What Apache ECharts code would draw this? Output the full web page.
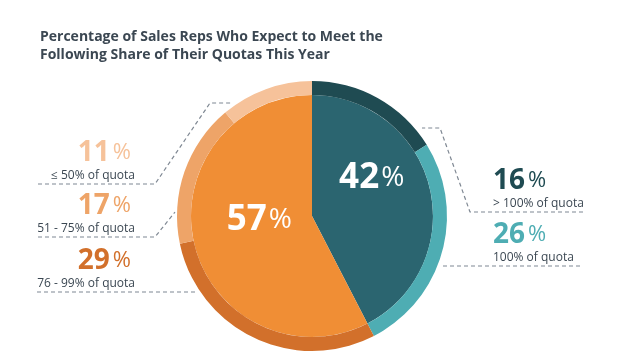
<!DOCTYPE html>
<html><head><meta charset="utf-8">
<script src="https://cdn.jsdelivr.net/npm/echarts@6/dist/echarts.min.js"></script>
<style>html,body{margin:0;padding:0;background:#fff}#c{width:631px;height:364px}</style>
</head><body><div id="c"></div>
<script>
// ---- data ----
const titleLines = ['Percentage of Sales Reps Who Expect to Meet the', 'Following Share of Their Quotas This Year'];
const innerNames = ['Meet or exceed quota', 'Below quota'];
const innerValues = [42, 57];
const outerNames = ['> 100% of quota', '100% of quota', '76 - 99% of quota', '51 - 75% of quota', '\u2264 50% of quota'];
const outerValues = [16, 26, 29, 17, 11];

// ---- styles ----
const innerColors = ['#2b6570', '#f08e35'];
const outerColors = ['#1f4b52', '#4eadb3', '#d2702b', '#eea468', '#f6c29a'];
const textColor = '#3b4752';
const FONT = "'Open Sans', sans-serif";
// label placement (block bottom anchor) and dashed leader polylines
const outerLabelPlace = [
  { x: 493, y: 212, align: 'left',  line: [[583, 212], [470, 212], [440, 128], [422, 128]] },
  { x: 493, y: 266, align: 'left',  line: [[580, 266], [443, 266]] },
  { x: 135, y: 292, align: 'right', line: [[37, 292], [197, 292]] },
  { x: 135, y: 237, align: 'right', line: [[38, 237], [155, 237], [175, 212]] },
  { x: 135, y: 184, align: 'right', line: [[38, 184], [155, 184], [210, 103], [233, 103]] }
];
const innerLabelShift = [[-2, -23], [9, -11]];

function outerRich(color, align) {
  return {
    n: { fontFamily: FONT, fontSize: 28, fontWeight: 'bold', color: color, lineHeight: 30, align: align },
    p: { fontFamily: FONT, fontSize: 22, color: color, lineHeight: 30, padding: [0, align === 'right' ? 4 : 0, 0, 3], align: align },
    t: { fontFamily: FONT, fontSize: 12, color: textColor, lineHeight: 16, align: align }
  };
}

const chart = echarts.init(document.getElementById('c'), null, { renderer: 'canvas' });
chart.setOption({
  animation: false,
  backgroundColor: '#fff',
  title: {
    text: titleLines.join('\n'),
    left: 40, top: 28, padding: 0,
    textStyle: { fontFamily: FONT, fontSize: 14, fontWeight: 'bold', color: textColor, lineHeight: 18 }
  },
  series: [
    {
      type: 'pie',
      center: [312, 216],
      radius: [0, 121],
      startAngle: 90,
      clockwise: true,
      silent: true,
      emphasis: { disabled: true },
      data: innerValues.map((v, i) => ({ value: v, name: innerNames[i], itemStyle: { color: innerColors[i] } })),
      label: {
        position: 'inside',
        formatter: p => '{n|' + p.value + '}{p|%}',
        rich: {
          n: { fontFamily: FONT, fontSize: 35, fontWeight: 'bold', color: '#fff', lineHeight: 40 },
          p: { fontFamily: FONT, fontSize: 28, color: '#fff', lineHeight: 40, padding: [0, 0, 0, 2] }
        }
      },
      labelLine: { show: false },
      labelLayout: p => ({ dx: innerLabelShift[p.dataIndex][0], dy: innerLabelShift[p.dataIndex][1] })
    },
    {
      type: 'pie',
      center: [312, 216],
      radius: [121, 135],
      startAngle: 90,
      clockwise: true,
      silent: true,
      avoidLabelOverlap: false,
      emphasis: { disabled: true },
      data: outerValues.map((v, i) => ({
        value: v, name: outerNames[i],
        itemStyle: { color: outerColors[i] },
        label: { align: outerLabelPlace[i].align, rich: outerRich(outerColors[i], outerLabelPlace[i].align) }
      })),
      label: {
        show: true,
        position: 'outside',
        formatter: p => '{n|' + p.value + '}{p|%}\n{t|' + p.name + '}'
      },
      labelLine: {
        show: true, smooth: false,
        lineStyle: { color: '#7f8893', width: 1.2, type: [4, 3] }
      },
      labelLayout: p => {
        const L = outerLabelPlace[p.dataIndex];
        return { x: L.x, y: L.y, align: L.align, verticalAlign: 'bottom', labelLinePoints: L.line };
      }
    }
  ]
});
</script>
</body></html>
